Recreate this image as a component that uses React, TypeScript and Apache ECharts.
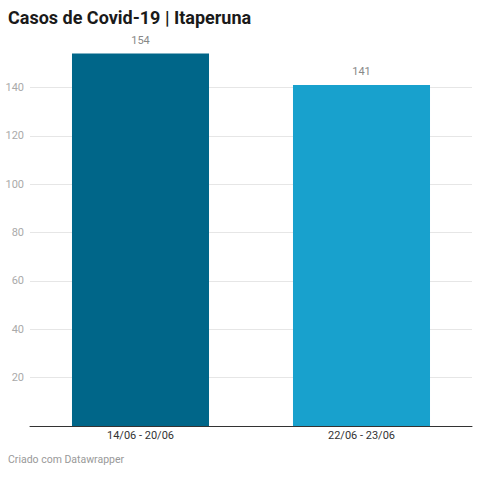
import React, { useEffect, useRef } from "react";
import * as echarts from "echarts";

const categories = ["14/06 - 20/06", "22/06 - 23/06"];
const values = [154, 141];
const barColors = ["#006689", "#18a1cd"];
const yTicks = [20, 40, 60, 80, 100, 120, 140];

export default function App() {
  const ref = useRef<HTMLDivElement>(null);
  useEffect(() => {
    document.body.style.margin = "0";
    const chart = echarts.init(ref.current!, null, { renderer: "svg" });
    chart.setOption({
      animation: false,
      title: {
        text: "Casos de Covid-19 | Itaperuna",
        left: 8,
        top: 8,
        padding: 0,
        textStyle: { fontFamily: "Roboto", fontWeight: "bold", fontSize: 18, color: "#1a1a1a" },
      },
      graphic: [
        {
          type: "text",
          left: 8,
          top: 454,
          style: { text: "Criado com Datawrapper", fontFamily: "Roboto", fontSize: 10.5, fill: "#999999" },
        },
      ],
      grid: { left: 30, right: 8, top: 39, bottom: 54, containLabel: false },
      xAxis: {
        type: "category",
        data: categories,
        axisLine: { lineStyle: { color: "#333333", width: 1 } },
        axisTick: { show: false },
        axisLabel: { color: "#333333", fontFamily: "Roboto", fontSize: 11, margin: 4 },
      },
      yAxis: {
        type: "value",
        min: 0,
        max: 160,
        interval: 20,
        axisLine: { show: false },
        axisTick: { show: false },
        splitLine: { lineStyle: { color: "#e6e6e6", width: 1 }, showMinLine: false, showMaxLine: false },
        axisLabel: {
          color: "#aaaaaa",
          fontFamily: "Roboto",
          fontSize: 11,
          margin: 6,
          formatter: (v: number) => (yTicks.includes(v) ? String(v) : ""),
        },
      },
      series: [
        {
          type: "bar",
          barWidth: "62%",
          data: values.map((v, i) => ({ value: v, itemStyle: { color: barColors[i] } })),
          label: {
            show: true,
            position: "top",
            distance: 8,
            color: "#888888",
            fontFamily: "Roboto",
            fontSize: 11,
          },
        },
      ],
    });
    return () => chart.dispose();
  }, []);
  return <div ref={ref} style={{ width: 480, height: 480 }} />;
}
